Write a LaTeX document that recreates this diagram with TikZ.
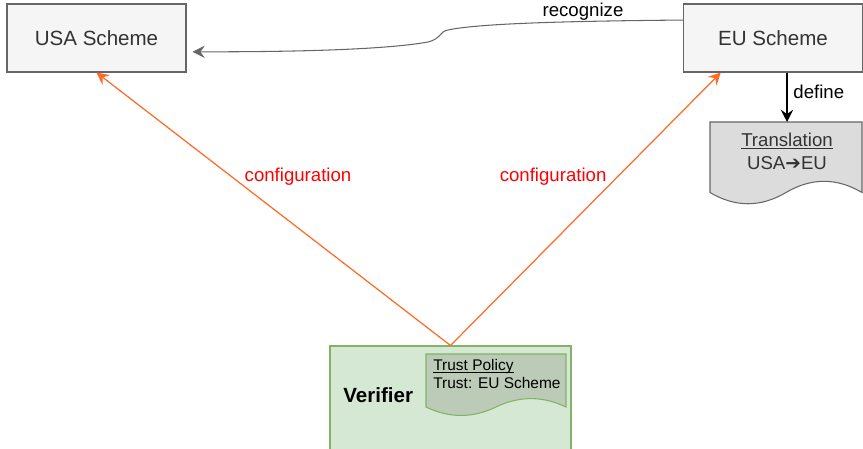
\documentclass[tikz,border=0pt]{standalone}
\usepackage{fontspec}
\setmainfont{Liberation Sans}
\newfontfamily\arrowfont{DejaVu Sans}
\usetikzlibrary{arrows.meta,calc}
\definecolor{boxgray}{HTML}{F5F5F5}
\definecolor{linegray}{HTML}{666666}
\definecolor{textgray}{HTML}{333333}
\definecolor{docgray}{HTML}{DCDCDC}
\definecolor{vergreen}{HTML}{D5E8D4}
\definecolor{edgegreen}{HTML}{82B366}
\definecolor{polgreen}{HTML}{BCCBB8}
\definecolor{cfgorange}{HTML}{FF6A26}
% underline just under the baseline
\newcommand\tightul[1]{\setbox0\hbox{#1}\rlap{\rule[-1.4pt]{\wd0}{0.6pt}}\box0}

\begin{document}
\begin{tikzpicture}[x=0.02cm,y=-0.02cm,
		scheme/.style={draw=linegray,fill=boxgray,line width=0.6pt,minimum width=3.58cm,minimum height=1.36cm,text=textgray,font=\fontsize{11.7}{14}\selectfont},
		cfg/.style={draw=cfgorange,line width=0.7pt,-{Stealth[length=7pt,width=7pt,inset=2.5pt]}},
		lbl/.style={font=\fontsize{10.6}{13}\selectfont}]
		\useasboundingbox (0,0) rectangle (863,449);
		% the two schemes
		\node[scheme] (usa) at (96.5,38) {USA Scheme};
		\node[scheme] (eu) at (773,38) {EU Scheme};
		% translation document
		\draw[linegray,fill=docgray,line width=0.6pt] (710,122) -- (862,122) -- (862,192.5)
			.. controls (836.7,177.6) and (811.3,177.6) .. (786,192.5)
			.. controls (760.7,207.5) and (735.3,207.5) .. (710,192.5) -- cycle;
		\coordinate (transtop) at (787,122);
		\node[lbl,text=textgray,anchor=base] (transtitle) at (787,147) {\tightul{Translation}};
		\node[lbl,text=textgray,anchor=base] (transtext) at (787,170) {USA{\arrowfont ➔}EU};
		% verifier with its trust policy
		\node[draw=edgegreen,fill=vergreen,line width=0.6pt,minimum width=4.82cm,minimum height=2.3cm] (verifier) at (450.5,403.5) {};
		\draw[edgegreen,fill=polgreen,line width=0.6pt] (426,354) -- (566,354) -- (566,407)
			.. controls (542.7,395.8) and (519.3,395.8) .. (496,407)
			.. controls (472.7,418.3) and (449.3,418.3) .. (426,407) -- cycle;
		\node[anchor=base west,inner sep=0,font=\fontsize{8.8}{10}\selectfont] (policytitle) at (433,371) {\tightul{Trust Policy}};
		\node[anchor=base west,inner sep=0,font=\fontsize{8.8}{10}\selectfont] (policytext) at (433,389) {Trust: EU Scheme};
		\node[anchor=base west,inner sep=0,font=\fontsize{11.7}{14}\selectfont\bfseries] (verlabel) at (343,403) {Verifier};
		% connectors
		\draw[cfg] (verifier.north) -- (usa.south)
			node[lbl,text=red,pos=0.62,xshift=1.34cm] {configuration};
		\draw[cfg] (verifier.north) -- ($(eu.south west)!0.21!(eu.south east)$)
			node[lbl,text=red,pos=0.62,xshift=-1.3cm] {configuration};
		\draw[linegray,line width=0.6pt,-{Stealth[length=7pt,width=7pt,inset=2.5pt]}]
			($(eu.north west)!0.24!(eu.south west)$) .. controls (580,21) and (480,23) .. (448,30)
			.. controls (440,31) and (441,39) .. (428,42)
			.. controls (400,47) and (340,52) .. ($(usa.north east)!0.7!(usa.south east)+(6,0)$);
		\node[lbl] (recog) at (583,12) {recognize};
		\draw[line width=0.7pt,-{Stealth[length=7pt,width=7pt,inset=2.5pt]}] ($(eu.south)+(14,0)$) -- (transtop)
			node[lbl,pos=0.4,right] {define};
	\end{tikzpicture}
\end{document}
